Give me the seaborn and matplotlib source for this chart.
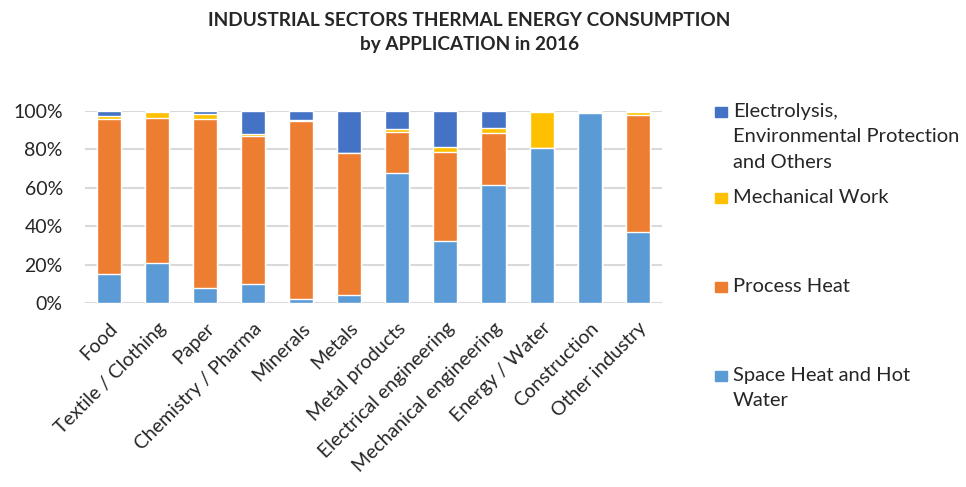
import numpy as np
import pandas as pd
import matplotlib
matplotlib.use("Agg")
import matplotlib.pyplot as plt
import seaborn as sns
from matplotlib.patches import Rectangle

# Data (shares in %)
sectors = [
    "Food", "Textile / Clothing", "Paper", "Chemistry / Pharma", "Minerals",
    "Metals", "Metal products", "Electrical engineering",
    "Mechanical engineering", "Energy / Water", "Construction", "Other industry",
]
space_heat = [15, 21, 8, 10, 2, 4, 67.5, 32.5, 61.5, 80.5, 99, 37]
process_heat = [81, 75.5, 88, 77, 93, 74, 21.5, 46, 27, 0, 0, 61]
mechanical = [1.5, 3, 2.5, 1, 0.5, 0, 1.5, 3, 2.5, 19, 0.7, 1.5]
electrolysis = [2.5, 0.5, 1.5, 12, 4.5, 22, 9.5, 18.5, 9, 0.5, 0.3, 0.5]

series_names = [
    "Electrolysis,\nEnvironmental Protection\nand Others",
    "Mechanical Work",
    "Process Heat",
    "Space Heat and Hot\nWater",
]
colors = ["#4472C4", "#FFC000", "#ED7D31", "#5B9BD5"]

df = pd.DataFrame({
    "sector": sectors,
    "space": space_heat,
    "process": process_heat,
    "mech": mechanical,
    "elec": electrolysis,
})
df["c_space"] = df["space"]
df["c_process"] = df["c_space"] + df["process"]
df["c_mech"] = df["c_process"] + df["mech"]
df["c_elec"] = df["c_mech"] + df["elec"]

sns.set_style("white")
plt.rcParams["font.family"] = ["Lato", "DejaVu Sans"]

fig = plt.figure(figsize=(9.66, 4.87), dpi=100)
ax = fig.add_axes([0.088, 0.378, 0.597, 0.394])

# stacked bars: draw cumulative totals from the top series down
for col, color in zip(["c_elec", "c_mech", "c_process", "c_space"], colors):
    sns.barplot(data=df, x="sector", y=col, color=color, width=0.5,
                ax=ax, saturation=1, zorder=3)

ax.set_ylim(0, 100)
ax.set_xlim(-0.5, len(sectors) - 0.5)
ax.set_yticks(np.arange(0, 101, 20))
ax.set_yticklabels([f"{v}%" for v in range(0, 101, 20)], fontsize=14)
ax.yaxis.grid(True, color="#D9D9D9", linewidth=1.5, zorder=0)
ax.set_axisbelow(True)
ax.set_xlabel("")
ax.set_ylabel("")
ax.tick_params(axis="both", length=0)
ax.tick_params(axis="y", pad=16)
ax.tick_params(axis="x", pad=12)
ax.set_xticks(range(len(sectors)))
ax.set_xticklabels(sectors, rotation=45, ha="right", rotation_mode="anchor",
                   fontsize=14)
for s in ax.spines.values():
    s.set_visible(False)

fig.text(0.486, 0.975, "INDUSTRIAL SECTORS THERMAL ENERGY CONSUMPTION\nby APPLICATION in 2016",
         ha="center", va="top", fontsize=13.7, fontweight="bold", linespacing=1.5)

# legend on the right, spread like the original
legend_y = [112, 198, 287, 376]
for name, color, yc in zip(series_names, colors, legend_y):
    yf = 1 - yc / 487
    fig.patches.append(Rectangle((715 / 966, yf - 5 / 487), 12 / 966, 10 / 487,
                                 transform=fig.transFigure, color=color))
    fig.text(733 / 966, yf + 9 / 487, name, ha="left", va="top",
             fontsize=14.5, linespacing=1.6)

plt.savefig("out.png", dpi=100)
